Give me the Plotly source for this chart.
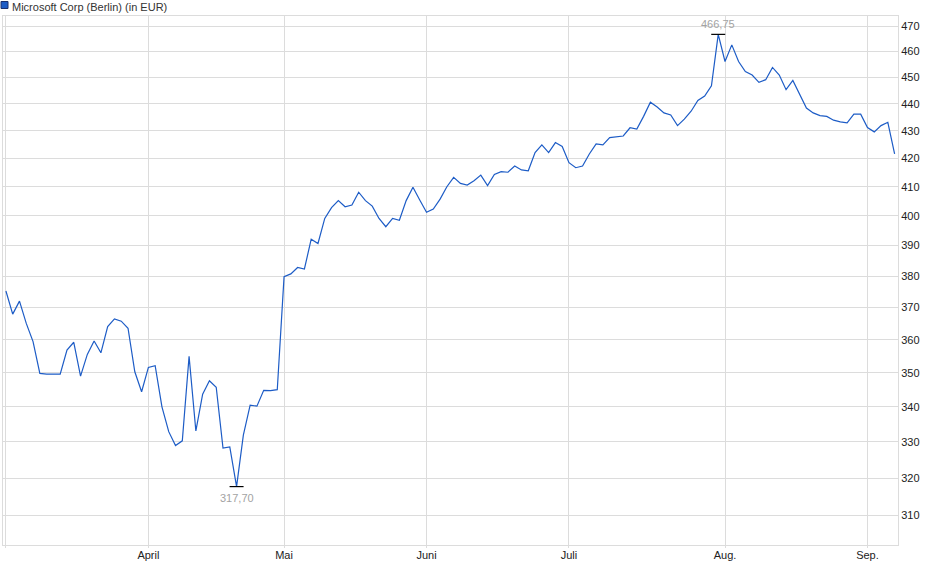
import numpy as np
import pandas as pd
import plotly.graph_objects as go

# Trading days on the Berlin exchange, 2025 (Good Friday, Easter Monday, 1 May closed)
holidays = pd.to_datetime(['2025-04-18', '2025-04-21', '2025-05-01'])
days = pd.bdate_range('2025-03-03', '2025-09-05')
days = days[~days.isin(holidays)]
dates = [d.strftime('%Y-%m-%d') for d in days]

# closing prices in EUR
march = [375.2, 367.9, 372.0, 365.0, 359.4, 349.8, 349.6, 349.6, 349.6, 356.8, 359.2,
         349.0, 355.5, 359.6, 356.0, 364.0, 366.4, 365.7, 363.5, 350.3, 344.4]
april = [351.6, 352.1, 340.0, 332.9, 329.0, 330.3, 354.9, 333.1, 343.7, 347.6, 345.7,
         328.3, 328.6, 317.7, 331.9, 340.5, 340.2, 344.8, 344.7, 345.0]
may = [379.8, 380.7, 382.8, 382.3, 392.1, 390.7, 399.1, 402.8, 405.2, 403.1, 403.7,
       408.1, 405.2, 403.3, 399.1, 396.3, 399.1, 398.5, 405.2, 409.8, 405.4]
june = [401.2, 402.3, 405.7, 410.0, 413.3, 411.2, 410.6, 412.1, 414.1, 410.4, 414.3,
        415.3, 415.1, 417.3, 415.9, 415.6, 422.1, 424.9, 422.1, 425.7, 424.3]
july = [418.5, 416.7, 417.3, 421.6, 425.2, 424.9, 427.5, 427.7, 428.1, 431.1, 430.6,
        435.3, 440.6, 438.8, 436.6, 435.8, 431.9, 434.3, 437.2, 441.2, 442.9, 446.8, 466.75]
august = [456.1, 462.6, 456.1, 452.2, 450.9, 448.1, 449.1, 453.8, 450.9, 445.3, 448.8,
          443.4, 438.4, 436.6, 435.6, 435.3, 433.9, 433.3, 432.9, 436.1, 436.1]
september = [431.2, 429.6, 431.9, 433.1, 421.6]
prices = march + april + may + june + july + august + september

month_starts = ['2025-03-03', '2025-04-01', '2025-05-02', '2025-06-02',
                '2025-07-01', '2025-08-01', '2025-09-01']
month_labels = ['', 'April', 'Mai', 'Juni', 'Juli', 'Aug.', 'Sep.']
y_ticks = list(range(310, 471, 10))

hi_i = int(np.argmax(prices))
lo_i = int(np.argmin(prices))

grid = '#dcdcdc'
font = 'Liberation Sans, Arial, sans-serif'

fig = go.Figure()
fig.add_trace(go.Scatter(x=dates, y=prices, mode='lines',
                         line=dict(color='#1d5cc6', width=1.2), showlegend=False))
fig.add_trace(go.Scatter(x=[dates[hi_i], dates[lo_i]], y=[prices[hi_i], prices[lo_i]],
                         mode='markers', showlegend=False,
                         marker=dict(symbol='line-ew', size=10,
                                     line=dict(width=1.2, color='black'))))

for i, pos in [(hi_i, 'bottom'), (lo_i, 'top')]:
    fig.add_annotation(x=dates[i], y=np.log10(prices[i]),
                       text=f'{prices[i]:.2f}'.replace('.', ','),
                       showarrow=False, yanchor=pos,
                       yshift=2 if pos == 'bottom' else -3,
                       font=dict(family=font, size=11, color='#a3a3a3'))

# legend box
fig.add_shape(type='rect', xref='paper', yref='paper',
              x0=-0.0022, x1=0.0056, y0=1.0142, y1=1.0274,
              fillcolor='#1d5cc6', line=dict(color='#1a2f6e', width=1))
fig.add_annotation(xref='paper', yref='paper', x=0.0075, y=1.0175, xanchor='left',
                   yanchor='middle', showarrow=False,
                   text='Microsoft Corp (Berlin) (in EUR)',
                   font=dict(family=font, size=11, color='#333333'))

fig.update_layout(
    width=940, height=579,
    margin=dict(l=3, r=42, t=16, b=34),
    paper_bgcolor='white', plot_bgcolor='white',
    font=dict(family=font, size=11, color='#222222'),
    xaxis=dict(type='category', range=[-0.43, 131.5],
               tickvals=month_starts, ticktext=month_labels,
               showgrid=True, gridcolor=grid, gridwidth=1,
               ticks='outside', ticklen=2, tickcolor=grid, ticklabelstandoff=-2,
               showline=True, linecolor=grid, mirror=True, zeroline=False),
    yaxis=dict(type='log', side='right',
               range=[np.log10(302.3), np.log10(474.1)],
               tickvals=y_ticks, ticktext=[str(v) for v in y_ticks],
               showgrid=True, gridcolor=grid, gridwidth=1,
               ticks='', showline=True, linecolor=grid, mirror=True, zeroline=False),
)

# page body has a default 8px margin; drop it so the chart sits at the window corner
fig.write_html("out.html", config={'displayModeBar': False},
               post_script="document.body.style.margin = '0';")
